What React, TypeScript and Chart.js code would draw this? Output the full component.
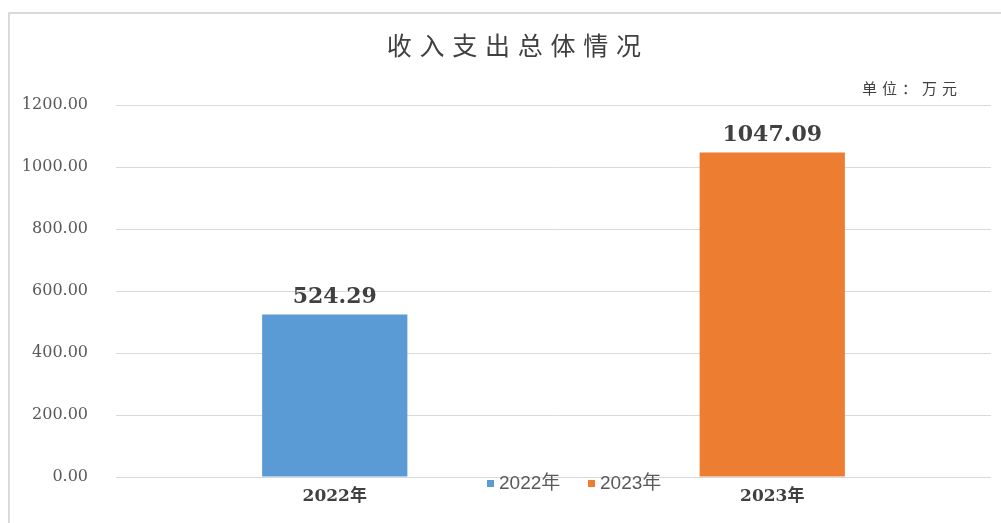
import React, { useEffect, useRef } from "react";
import { Chart, registerables } from "chart.js";

Chart.register(...registerables);

const categories = ["2022年", "2023年"];
const seriesNames = ["2022年", "2023年"];
const seriesColors = ["#5B9BD5", "#ED7D31"];
const values2022: (number | null)[] = [524.29, null];
const values2023: (number | null)[] = [null, 1047.09];
const yTicks = [0, 200, 400, 600, 800, 1000, 1200];
const titleText = "收入支出总体情况";
const unitText = "单位：万元";

const decorPlugin = {
  id: "decor",
  afterDraw(chart: any) {
    const ctx = chart.ctx as CanvasRenderingContext2D;
    ctx.save();
    // frame
    ctx.strokeStyle = "#d9d9d9";
    ctx.lineWidth = 2;
    ctx.beginPath();
    ctx.moveTo(9, 523);
    ctx.lineTo(9, 13);
    ctx.lineTo(1001, 13);
    ctx.stroke();

    // title
    ctx.fillStyle = "#404040";
    ctx.font = "25px 'Noto Sans CJK SC'";
    ctx.textAlign = "center";
    ctx.textBaseline = "middle";
    const chars = Array.from(titleText);
    const step = 32.75;
    const cx = 514;
    chars.forEach((c, i) => {
      ctx.fillText(c, cx + (i - (chars.length - 1) / 2) * step, 45);
    });

    // unit
    ctx.font = "15px 'Noto Sans CJK SC'";
    ctx.textAlign = "left";
    (ctx as any).letterSpacing = "5px";
    ctx.fillText(unitText, 862, 88);
    (ctx as any).letterSpacing = "0px";

    // data labels
    ctx.font = "bold 22px 'DejaVu Serif'";
    ctx.textAlign = "center";
    ctx.fillStyle = "#404040";
    chart.data.datasets.forEach((ds: any, di: number) => {
      const meta = chart.getDatasetMeta(di);
      meta.data.forEach((el: any, i: number) => {
        const v = ds.data[i];
        if (v === null || v === undefined) return;
        ctx.fillText(v.toFixed(2), el.x, el.y - 17);
      });
    });

    // legend
    ctx.font = "19px 'Liberation Sans', 'Noto Sans CJK SC'";
    ctx.textAlign = "left";
    ctx.fillStyle = "#595959";
    const starts = [487, 588];
    chart.data.datasets.forEach((ds: any, di: number) => {
      const x = starts[di];
      ctx.fillStyle = ds.backgroundColor;
      ctx.fillRect(x, 480, 7, 7);
      ctx.fillStyle = "#595959";
      ctx.fillText(ds.label, x + 12, 484);
    });
    ctx.restore();
  },
};

export default function App() {
  const ref = useRef<HTMLCanvasElement | null>(null);
  useEffect(() => {
    if (!ref.current) return;
    const chart = new Chart(ref.current, {
      type: "bar",
      data: {
        labels: categories,
        datasets: [
          {
            label: seriesNames[0],
            data: values2022,
            backgroundColor: seriesColors[0],
          },
          {
            label: seriesNames[1],
            data: values2023,
            backgroundColor: seriesColors[1],
          },
        ],
      },
      options: {
        animation: false,
        responsive: false,
        grouped: false,
        categoryPercentage: 1,
        barPercentage: 0.332,
        layout: { padding: { left: 0, right: 10, top: 105, bottom: 0 } },
        plugins: {
          legend: { display: false },
          title: { display: false },
          tooltip: { enabled: false },
        },
        scales: {
          x: {
            grid: { display: false, drawTicks: false },
            border: { display: false },
            ticks: {
              padding: 9,
              color: "#404040",
              font: { family: "'DejaVu Serif', 'Noto Sans CJK SC'", size: 17, weight: "bold" },
            },
            afterFit: (s: any) => {
              s.height = 46;
            },
          },
          y: {
            min: 0,
            max: 1200,
            afterBuildTicks: (s: any) => {
              s.ticks = yTicks.map((v) => ({ value: v }));
            },
            grid: { color: "#d9d9d9", drawTicks: false, lineWidth: 1 },
            border: { display: false },
            ticks: {
              padding: 28,
              color: "#595959",
              font: { family: "'DejaVu Serif'", size: 16 },
              callback: (v: any) => Number(v).toFixed(2),
            },
            afterFit: (s: any) => {
              s.width = 116;
            },
          },
        },
      } as any,
      plugins: [decorPlugin],
    });
    return () => chart.destroy();
  }, []);
  return (
    <div style={{ position: "fixed", left: 0, top: 0, width: 1001, height: 523, background: "#fff" }}>
      <canvas ref={ref} width={1001} height={523} style={{ display: "block" }} />
    </div>
  );
}
